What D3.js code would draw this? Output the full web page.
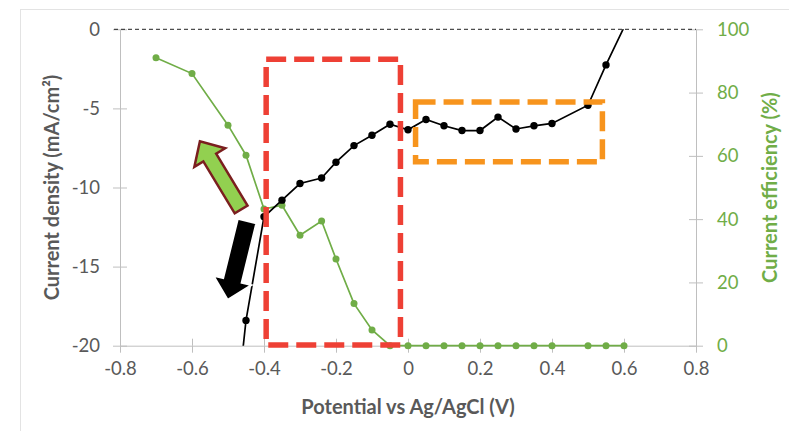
<!DOCTYPE html>
<html lang="en">
<head>
<meta charset="UTF-8">
<title>Current density and efficiency vs potential</title>
<script src="https://cdn.jsdelivr.net/npm/d3@7"></script>
<style>
  body { margin: 0; background: #fff; }
  text { font-family: Lato, "Open Sans", sans-serif; }
</style>
</head>
<body>
<div id="chart"></div>
<script>

  // current density (left axis), points outside the axis range are clipped
  const potentialJ = [-0.5, -0.45, -0.4, -0.35, -0.3, -0.24, -0.2, -0.15, -0.1, -0.05,
                      0, 0.05, 0.1, 0.15, 0.2, 0.25, 0.3, 0.35, 0.4, 0.5, 0.55, 0.65];
  const currentDensity = [-29, -18.4, -11.85, -10.8, -9.75, -9.4, -8.4, -7.35, -6.7, -6.0,
                          -6.35, -5.7, -6.1, -6.4, -6.4, -5.55, -6.3, -6.1, -5.95, -4.8, -2.25, 2.5];

  // current efficiency (right axis)
  const potentialE = [-0.7, -0.6, -0.5, -0.45, -0.4, -0.35, -0.3, -0.24, -0.2, -0.15, -0.1, -0.05,
                      0, 0.05, 0.1, 0.15, 0.2, 0.25, 0.3, 0.35, 0.4, 0.5, 0.55, 0.6];
  const efficiency = [91, 86, 69.7, 60.2, 43.2, 44.4, 34.9, 39.4, 27.4, 13.3, 5, 0,
                      0, 0, 0, 0, 0, 0, 0, 0, 0, 0, 0, 0];

  const xTicks = [-0.8, -0.6, -0.4, -0.2, 0, 0.2, 0.4, 0.6, 0.8];
  const leftTicks = [-20, -15, -10, -5, 0];
  const rightTicks = [0, 20, 40, 60, 80, 100];

  // highlight boxes and arrows, in data units (x = potential, y = current density)
  const boxes = [
      {x0: -0.394, x1: -0.021, y0: -1.9, y1: -19.95, color: '#ee4035'},
      {x0: 0.021, x1: 0.54, y0: -4.6, y1: -8.37, color: '#f7941d'}
  ];
  const arrows = [
      {from: [-0.4635, -11.39], to: [-0.578, -7.08], fill: '#92d050', stroke: '#7b1f1f', sw: 2.5, shaft: 15, head: 36, headLen: 19},
      {from: [-0.447, -12.12], to: [-0.501, -17.1], fill: '#000', stroke: '#fff', sw: 2, shaft: 19, head: 39, headLen: 20}
  ];

  const width = 789, height = 431;
  const gray = '#595959', axisGray = '#bfbfbf', green = '#70ad47';
  const plain = d => String(d);   // keep the ascii hyphen as minus sign

  const svg = d3.select('#chart').append('svg')
      .attr('width', width)
      .attr('height', height);

  // chart frame
  svg.append('rect')
      .attr('x', 20.5).attr('y', 9.5)
      .attr('width', 900).attr('height', 600)
      .attr('fill', 'none')
      .attr('stroke', '#e3e3e3');

  const x = d3.scaleLinear().domain([-0.8, 0.8]).range([120, 696]);
  const yL = d3.scaleLinear().domain([-20, 0]).range([345.7, 29.3]);
  const yR = d3.scaleLinear().domain([0, 100]).range([345.7, 29.3]);

  // color the axis and add the inner half of each tick (cross ticks)
  function styleAxis(g, color, attr, len) {
      g.select('.domain').attr('stroke', axisGray);
      g.selectAll('.tick line').attr('stroke', axisGray);
      g.selectAll('.tick text')
          .attr('fill', color)
          .attr('font-size', 18.5);
      g.selectAll('.tick').append('line')
          .attr('stroke', axisGray)
          .attr(attr, len);
  }

  svg.append('g')
      .attr('transform', `translate(0,${yL(-20)})`)
      .call(d3.axisBottom(x).tickValues(xTicks).tickSize(7).tickPadding(9)
          .tickSizeOuter(0).tickFormat(plain))
      .call(g => styleAxis(g, gray, 'y2', -7));

  svg.append('g')
      .attr('transform', `translate(${x(-0.8)},0)`)
      .call(d3.axisLeft(yL).tickValues(leftTicks).tickSize(7).tickPadding(13)
          .tickSizeOuter(0).tickFormat(plain))
      .call(g => styleAxis(g, gray, 'x2', 7));

  svg.append('g')
      .attr('transform', `translate(${x(0.8)},0)`)
      .call(d3.axisRight(yR).tickValues(rightTicks).tickSize(7).tickPadding(14)
          .tickSizeOuter(0).tickFormat(plain))
      .call(g => styleAxis(g, green, 'x2', -7));

  // zero current reference line
  svg.append('line')
      .attr('x1', x(-0.8) - 6).attr('x2', x(0.8))
      .attr('y1', yL(0)).attr('y2', yL(0))
      .attr('stroke', '#222')
      .attr('stroke-width', 1)
      .attr('stroke-dasharray', '4,3');

  // axis titles
  svg.append('text')
      .attr('x', x(0)).attr('y', 414)
      .attr('text-anchor', 'middle')
      .attr('font-size', 20).attr('font-weight', 'bold')
      .attr('fill', gray)
      .text('Potential vs Ag/AgCl (V)');

  svg.append('text')
      .attr('transform', `translate(59,${yL(-10)}) rotate(-90)`)
      .attr('text-anchor', 'middle')
      .attr('font-size', 20).attr('font-weight', 'bold')
      .attr('fill', gray)
      .text('Current density (mA/cm²)');

  svg.append('text')
      .attr('transform', `translate(777,${yR(50)}) rotate(-90)`)
      .attr('text-anchor', 'middle')
      .attr('font-size', 20).attr('font-weight', 'bold')
      .attr('fill', green)
      .text('Current efficiency (%)');

  // efficiency series
  const effData = potentialE.map((p, i) => [p, efficiency[i]]);
  svg.append('path')
      .datum(effData)
      .attr('fill', 'none')
      .attr('stroke', green)
      .attr('stroke-width', 1.7)
      .attr('d', d3.line().x(d => x(d[0])).y(d => yR(d[1])));
  svg.append('g').selectAll('circle')
      .data(effData)
      .join('circle')
      .attr('cx', d => x(d[0])).attr('cy', d => yR(d[1]))
      .attr('r', 3.5)
      .attr('fill', green);

  // current density series, clipped to the plot area
  svg.append('clipPath').attr('id', 'plot')
      .append('rect')
      .attr('x', x(-0.8)).attr('y', yL(0))
      .attr('width', x(0.8) - x(-0.8)).attr('height', yL(-20) - yL(0));

  const jData = potentialJ.map((p, i) => [p, currentDensity[i]]);
  const jg = svg.append('g').attr('clip-path', 'url(#plot)');
  jg.append('path')
      .datum(jData)
      .attr('fill', 'none')
      .attr('stroke', '#000')
      .attr('stroke-width', 1.7)
      .attr('d', d3.line().x(d => x(d[0])).y(d => yL(d[1])));
  jg.selectAll('circle')
      .data(jData.filter(d => d[1] >= -20 && d[1] <= 0))
      .join('circle')
      .attr('cx', d => x(d[0])).attr('cy', d => yL(d[1]))
      .attr('r', 3.7)
      .attr('fill', '#000');

  // dashed highlight boxes
  svg.append('g').selectAll('rect')
      .data(boxes)
      .join('rect')
      .attr('x', d => x(d.x0)).attr('y', d => yL(d.y0))
      .attr('width', d => x(d.x1) - x(d.x0))
      .attr('height', d => yL(d.y1) - yL(d.y0))
      .attr('fill', 'none')
      .attr('stroke', d => d.color)
      .attr('stroke-width', 5.5)
      .attr('stroke-dasharray', '20,8');

  // block arrows
  function arrowPoints(a) {
      const x0 = x(a.from[0]), y0 = yL(a.from[1]);
      const x1 = x(a.to[0]), y1 = yL(a.to[1]);
      const len = Math.hypot(x1 - x0, y1 - y0);
      const ux = (x1 - x0) / len, uy = (y1 - y0) / len;
      const nx = -uy, ny = ux;
      const bx = x1 - ux * a.headLen, by = y1 - uy * a.headLen;
      const s = a.shaft / 2, h = a.head / 2;
      return [
          [x0 + nx * s, y0 + ny * s],
          [bx + nx * s, by + ny * s],
          [bx + nx * h, by + ny * h],
          [x1, y1],
          [bx - nx * h, by - ny * h],
          [bx - nx * s, by - ny * s],
          [x0 - nx * s, y0 - ny * s]
      ];
  }

  svg.append('g').selectAll('polygon')
      .data(arrows)
      .join('polygon')
      .attr('points', d => arrowPoints(d).map(p => p.join(',')).join(' '))
      .attr('fill', d => d.fill)
      .attr('stroke', d => d.stroke)
      .attr('stroke-width', d => d.sw)
      .attr('stroke-linejoin', 'miter');

</script>
</body>
</html>
